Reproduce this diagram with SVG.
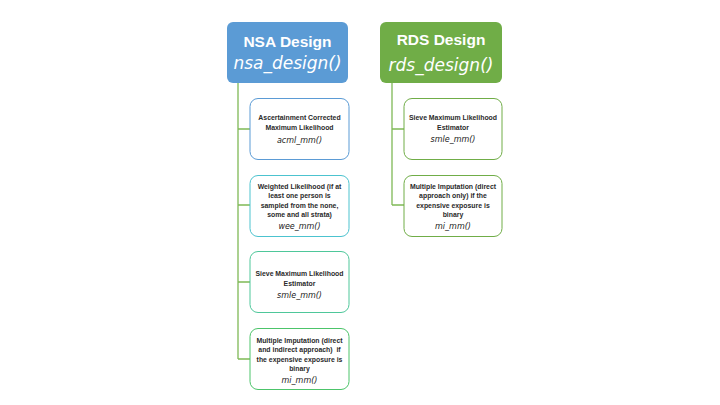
<svg xmlns="http://www.w3.org/2000/svg" width="720" height="405" viewBox="0 0 720 405">
<style>
.hdr{font-family:"Liberation Sans",Arial,sans-serif;font-weight:bold;font-size:15.5px;fill:#fff;text-anchor:middle}
.hfn{font-family:"DejaVu Sans",sans-serif;font-style:italic;font-size:17px;fill:#fff;text-anchor:middle}
.t{font-family:"Liberation Sans",Arial,sans-serif;font-weight:bold;font-size:6.9px;fill:#2a2a2a;text-anchor:middle}
.fn{font-family:"DejaVu Sans",sans-serif;font-style:italic;font-size:8px;fill:#1a1a1a;text-anchor:middle}
.box{fill:#fff;stroke-width:1}
.con{fill:none;stroke:#7fb956;stroke-width:1.3}
</style>
<rect width="720" height="405" fill="#fff"/>
<g id="connectors">
<path class="con" d="M238 83V359M238 129H250M238 205H250M238 282H250M238 359H250"/>
<path class="con" d="M392 83V205M392 129H404M392 205H404"/>
</g>
<g id="nsa">
<rect x="227" y="22" width="121" height="61" rx="6" fill="#5b9bd5"/>
<text class="hdr" x="287.5" y="47">NSA Design</text>
<text class="hfn" x="287.5" y="69">nsa_design()</text>
</g>
<g id="rds">
<rect x="380" y="22" width="122" height="61" rx="6" fill="#70ad47"/>
<text class="hdr" x="441" y="45">RDS Design</text>
<text class="hfn" x="441" y="71">rds_design()</text>
</g>
<g id="acml">
<rect class="box" x="250" y="98.5" width="99" height="61" rx="8" stroke="#5b9bd5"/>
<text class="t" x="299.5" y="119.5">Ascertainment Corrected</text>
<text class="t" x="299.5" y="129.5">Maximum Likelihood</text>
<text class="fn" x="299.5" y="143">acml_mm()</text>
</g>
<g id="wee">
<rect class="box" x="250" y="175.5" width="99" height="61" rx="8" stroke="#4cc3cf"/>
<text class="t" x="299.5" y="188.5">Weighted Likelihood (if at</text>
<text class="t" x="299.5" y="198">least one person is</text>
<text class="t" x="299.5" y="207.5">sampled from the none,</text>
<text class="t" x="299.5" y="217">some and all strata)</text>
<text class="fn" x="299.5" y="229">wee_mm()</text>
</g>
<g id="smle-nsa">
<rect class="box" x="250" y="251.5" width="99" height="61" rx="8" stroke="#4ec79a"/>
<text class="t" x="299.5" y="275.5">Sieve Maximum Likelihood</text>
<text class="t" x="299.5" y="285.5">Estimator</text>
<text class="fn" x="299.5" y="297.5">smle_mm()</text>
</g>
<g id="mi-nsa">
<rect class="box" x="250" y="328.5" width="99" height="61" rx="8" stroke="#4cc46a"/>
<text class="t" x="299.5" y="342.5">Multiple Imputation (direct</text>
<text class="t" x="299.5" y="352" xml:space="preserve">and indirect approach)  if</text>
<text class="t" x="299.5" y="361.5">the expensive exposure is</text>
<text class="t" x="299.5" y="371">binary</text>
<text class="fn" x="299.5" y="383">mi_mm()</text>
</g>
<g id="smle-rds">
<rect class="box" x="404" y="98.5" width="98" height="61" rx="8" stroke="#70ad47"/>
<text class="t" x="453" y="119.5">Sieve Maximum Likelihood</text>
<text class="t" x="453" y="129.5">Estimator</text>
<text class="fn" x="453" y="142">smle_mm()</text>
</g>
<g id="mi-rds">
<rect class="box" x="404" y="175.5" width="98" height="61" rx="8" stroke="#70ad47"/>
<text class="t" x="453" y="188.5">Multiple Imputation (direct</text>
<text class="t" x="453" y="198">approach only) if the</text>
<text class="t" x="453" y="207.5">expensive exposure is</text>
<text class="t" x="453" y="217">binary</text>
<text class="fn" x="453" y="229">mi_mm()</text>
</g>
</svg>
